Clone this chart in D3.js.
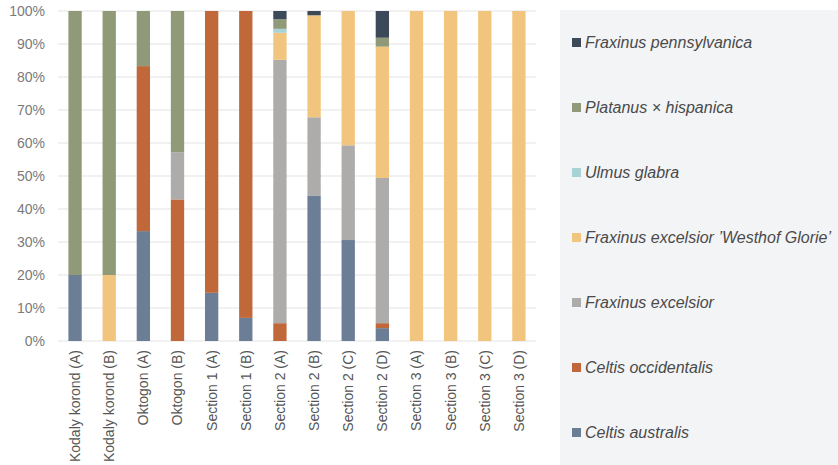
<!DOCTYPE html>
<html>
<head>
<meta charset="utf-8">
<script src="https://cdn.jsdelivr.net/npm/d3@7"></script>
<style>
  html, body { margin: 0; padding: 0; background: #ffffff; }
  svg { display: block; }
</style>
</head>
<body>
<svg id="chart" width="838" height="465"></svg>
<script>
// Sampling sites along the avenue
const sites = [
  "Kodaly korond (A)", "Kodaly korond (B)", "Oktogon (A)", "Oktogon (B)",
  "Section 1 (A)", "Section 1 (B)", "Section 2 (A)", "Section 2 (B)",
  "Section 2 (C)", "Section 2 (D)", "Section 3 (A)", "Section 3 (B)",
  "Section 3 (C)", "Section 3 (D)"
];

// Species, stacked bottom to top
const species = [
  "Celtis australis", "Celtis occidentalis", "Fraxinus excelsior",
  "Fraxinus excelsior 'Westhof Glorie'", "Ulmus glabra",
  "Platanus × hispanica", "Fraxinus pennsylvanica"
];

// Share of each species per site (%)
const celtisAustralis      = [20, 0, 33.3, 0, 14.6, 7, 0, 44.1, 30.6, 3.9, 0, 0, 0, 0];
const celtisOccidentalis   = [0, 0, 50, 42.9, 85.4, 93, 5.4, 0, 0, 1.5, 0, 0, 0, 0];
const fraxinusExcelsior    = [0, 0, 0, 14.3, 0, 0, 79.8, 23.7, 28.7, 44, 0, 0, 0, 0];
const westhofGlorie        = [0, 20, 0, 0, 0, 0, 8.2, 30.9, 40.7, 39.8, 100, 100, 100, 100];
const ulmusGlabra          = [0, 0, 0, 0, 0, 0, 1.2, 0, 0, 0, 0, 0, 0, 0];
const platanusHispanica    = [80, 80, 16.7, 42.8, 0, 0, 2.9, 0, 0, 2.7, 0, 0, 0, 0];
const fraxinusPennsylvanica= [0, 0, 0, 0, 0, 0, 2.5, 1.3, 0, 8.1, 0, 0, 0, 0];

const yTicks = [0, 10, 20, 30, 40, 50, 60, 70, 80, 90, 100];

const colors = {
  "Celtis australis": "#6b7e96",
  "Celtis occidentalis": "#c0683a",
  "Fraxinus excelsior": "#adacab",
  "Fraxinus excelsior 'Westhof Glorie'": "#f2c57e",
  "Ulmus glabra": "#a8d3d6",
  "Platanus × hispanica": "#909a78",
  "Fraxinus pennsylvanica": "#3c4958"
};

const seriesValues = [
  celtisAustralis, celtisOccidentalis, fraxinusExcelsior, westhofGlorie,
  ulmusGlabra, platanusHispanica, fraxinusPennsylvanica
];

const rows = sites.map((site, i) => {
  const r = { site };
  species.forEach((s, k) => { r[s] = seriesValues[k][i]; });
  return r;
});

const svg = d3.select("#chart");
const margin = { left: 58, right: 302, top: 11, bottom: 124 };
const W = 838, H = 465;

const x = d3.scaleBand()
  .domain(sites)
  .range([margin.left, W - margin.right])
  .paddingInner(0.61)
  .paddingOuter(0.305);

const y = d3.scaleLinear()
  .domain([0, 100])
  .range([H - margin.bottom, margin.top]);

// Legend panel
svg.append("rect")
  .attr("x", 560).attr("y", 10)
  .attr("width", W - 560).attr("height", H - 10)
  .attr("fill", "#f3f4f6");

// Gridlines
svg.append("g")
  .selectAll("line")
  .data(yTicks)
  .join("line")
  .attr("x1", margin.left).attr("x2", W - margin.right)
  .attr("y1", d => y(d)).attr("y2", d => y(d))
  .attr("stroke", "#e3e3e3")
  .attr("stroke-width", 1);

// Y axis labels
const yAxis = d3.axisLeft(y)
  .tickValues(yTicks)
  .tickFormat(d => d + "%")
  .tickSize(0)
  .tickPadding(13);
const gy = svg.append("g")
  .attr("transform", `translate(${margin.left},0)`)
  .call(yAxis);
gy.select(".domain").remove();
gy.selectAll("text")
  .attr("fill", "#7a7a7a")
  .style("font-family", "Liberation Sans, Arial, sans-serif")
  .style("font-size", "14px");

// Stacked bars
const stack = d3.stack().keys(species);
const layers = stack(rows);

svg.append("g")
  .selectAll("g")
  .data(layers)
  .join("g")
  .attr("fill", d => colors[d.key])
  .selectAll("rect")
  .data(d => d)
  .join("rect")
  .attr("x", d => x(d.data.site))
  .attr("width", x.bandwidth())
  .attr("y", d => y(d[1]))
  .attr("height", d => y(d[0]) - y(d[1]));

// X axis labels, rotated
const xAxis = d3.axisBottom(x).tickSize(0).tickPadding(0);
const gx = svg.append("g")
  .attr("transform", `translate(0,${H - margin.bottom})`)
  .call(xAxis);
gx.select(".domain").remove();
gx.selectAll("text")
  .attr("transform", "rotate(-90)")
  .attr("x", -9)
  .attr("y", 0)
  .attr("dy", "0.35em")
  .attr("text-anchor", "end")
  .attr("fill", "#555555")
  .style("font-family", "Liberation Sans, Arial, sans-serif")
  .style("font-size", "14px");

// Legend, top item is the top of the stack
const legendOrder = species.slice().reverse();
const legend = svg.append("g")
  .selectAll("g")
  .data(legendOrder)
  .join("g")
  .attr("transform", (d, i) => `translate(572,${42.5 + i * 65})`);

legend.append("rect")
  .attr("x", 0).attr("y", -4.5)
  .attr("width", 9).attr("height", 9)
  .attr("fill", d => colors[d]);

legend.append("text")
  .attr("x", 13)
  .attr("y", 0)
  .attr("dy", "0.36em")
  .attr("fill", "#4a4a4a")
  .style("font-family", "Liberation Sans, Arial, sans-serif")
  .style("font-style", "italic")
  .style("font-size", "16px")
  .text(d => d.replace(/'/g, "\u2019"));
</script>
</body>
</html>
